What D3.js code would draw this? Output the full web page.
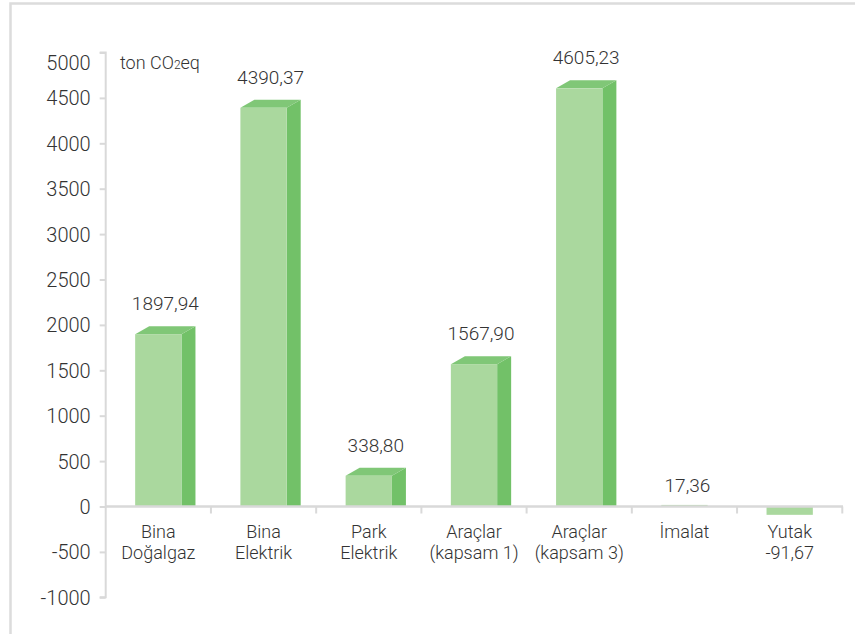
<!DOCTYPE html>
<html>
<head>
<meta charset="utf-8">
<script src="https://cdn.jsdelivr.net/npm/d3@7/dist/d3.min.js"></script>
<style>
  html, body { margin: 0; padding: 0; background: #fff; }
  svg { display: block; }
  text { font-family: Roboto, "Liberation Sans", Arial, sans-serif; font-weight: 300; fill: #333; }
</style>
</head>
<body>
<svg id="chart" width="855" height="634"></svg>
<script>
// ---- data ----
const categories = ["Bina Doğalgaz", "Bina Elektrik", "Park Elektrik", "Araçlar (kapsam 1)", "Araçlar (kapsam 3)", "İmalat", "Yutak"];
const categoryLines = [["Bina", "Doğalgaz"], ["Bina", "Elektrik"], ["Park", "Elektrik"], ["Araçlar", "(kapsam 1)"], ["Araçlar", "(kapsam 3)"], ["İmalat"], ["Yutak"]];
const values = [1897.94, 4390.37, 338.80, 1567.90, 4605.23, 17.36, -91.67];
const yTicks = [-1000, -500, 0, 500, 1000, 1500, 2000, 2500, 3000, 3500, 4000, 4500, 5000];
const unitLabel = ["ton CO", "2", "eq"];

// ---- setup ----
const svg = d3.select("#chart");
const W = 855, H = 634;
const axisColor = "#d9d9d9";
const frontColor = "#aad89e";
const sideColor = "#72c168";
const topColor = "#80c777";
const dx = 14, dy = 8;

// outer frame
svg.append("rect")
  .attr("x", 10.5).attr("y", 3.5)
  .attr("width", W + 20).attr("height", H + 20)
  .attr("fill", "none").attr("stroke", "#dcdcdc").attr("stroke-width", 2.5);

const y = d3.scaleLinear().domain([-1000, 5000]).range([597.3, 52.5]);
const x = d3.scaleBand().domain(categories).range([105.7, 842.3]);
const barW = x.bandwidth() * 0.44;
const y0 = y(0);

const loc = d3.formatLocale({ decimal: ",", thousands: "", grouping: [3], currency: ["", ""], minus: "-" });
const fmt = loc.format(".2f");

// Y axis
const yAxis = d3.axisLeft(y).tickValues(yTicks).tickSize(6).tickPadding(9).tickFormat(d => String(d));
const gy = svg.append("g").attr("transform", "translate(105.7,0)").call(yAxis);
gy.select(".domain").attr("stroke", axisColor).attr("stroke-width", 2).attr("d", `M-6,${y(5000)}H0V${y(-1000)}H-6`);
gy.selectAll(".tick line").attr("stroke", axisColor).attr("stroke-width", 2);
gy.selectAll(".tick text")
  .attr("font-size", 20).attr("fill", "#333")
  .style("font-family", "Roboto, 'Liberation Sans', Arial, sans-serif")
  .style("font-weight", 300)
  .attr("dy", "0.35em")
  .attr("y", d => Math.max(y(d), 62) - y(d));

// Category labels
const catG = svg.append("g");
categories.forEach((c, i) => {
  const cx = x(c) + x.bandwidth() / 2;
  const t = catG.append("text").attr("x", cx).attr("y", 538)
    .attr("text-anchor", "middle").attr("font-size", 18);
  categoryLines[i].forEach((line, j) => {
    t.append("tspan").attr("x", cx).attr("dy", j === 0 ? 0 : 21).text(line);
  });
});

// Bars
const data = categories.map((c, i) => ({ c, v: values[i] }));
const bars = svg.append("g");
data.forEach(d => {
  const xl = x(d.c) + (x.bandwidth() - barW) / 2;
  const xr = xl + barW;
  const top = Math.min(y(d.v), y0);
  const bottom = Math.max(y(d.v), y0);
  const h = bottom - top;
  const is3D = d.v > 0 && h > dy;
  if (is3D) {
    bars.append("polygon")
      .attr("points", [[xr, top], [xr + dx, top - dy], [xr + dx, y0], [xr, y0]].map(p => p.join(",")).join(" "))
      .attr("fill", sideColor);
    bars.append("polygon")
      .attr("points", [[xl, top], [xl + dx, top - dy], [xr + dx, top - dy], [xr, top]].map(p => p.join(",")).join(" "))
      .attr("fill", topColor);
  }
  bars.append("rect").attr("x", xl).attr("y", top).attr("width", barW).attr("height", Math.max(h, 0.01))
    .attr("fill", frontColor);

  // value labels
  if (d.v >= 0) {
    const lx = is3D ? (xl + xr) / 2 + dx / 2 : (xl + xr) / 2 + 3;
    const ly = is3D ? top - 24 : top - 13;
    bars.append("text").attr("x", lx).attr("y", ly).attr("text-anchor", "middle")
      .attr("font-size", 19).text(fmt(d.v));
  } else {
    bars.append("text").attr("x", x(d.c) + x.bandwidth() / 2).attr("y", 559)
      .attr("text-anchor", "middle").attr("font-size", 18).text(fmt(d.v));
  }
});

// X axis (drawn over bars)
const gx = svg.append("g").attr("transform", `translate(0,${y0})`);
gx.append("line").attr("x1", 105.7).attr("x2", 843).attr("y1", 0).attr("y2", 0)
  .attr("stroke", axisColor).attr("stroke-width", 2.5);
const boundaries = categories.map(c => x(c) + x.bandwidth());
gx.selectAll("line.tk").data(boundaries).enter().append("line")
  .attr("class", "tk")
  .attr("x1", d => d).attr("x2", d => d).attr("y1", 0).attr("y2", 7)
  .attr("stroke", axisColor).attr("stroke-width", 2);

// unit label
const ut = svg.append("text").attr("x", 120).attr("y", 69).attr("font-size", 18);
ut.append("tspan").text(unitLabel[0]);
ut.append("tspan").attr("font-size", 12).text(unitLabel[1]);
ut.append("tspan").text(unitLabel[2]);
</script>
</body>
</html>
